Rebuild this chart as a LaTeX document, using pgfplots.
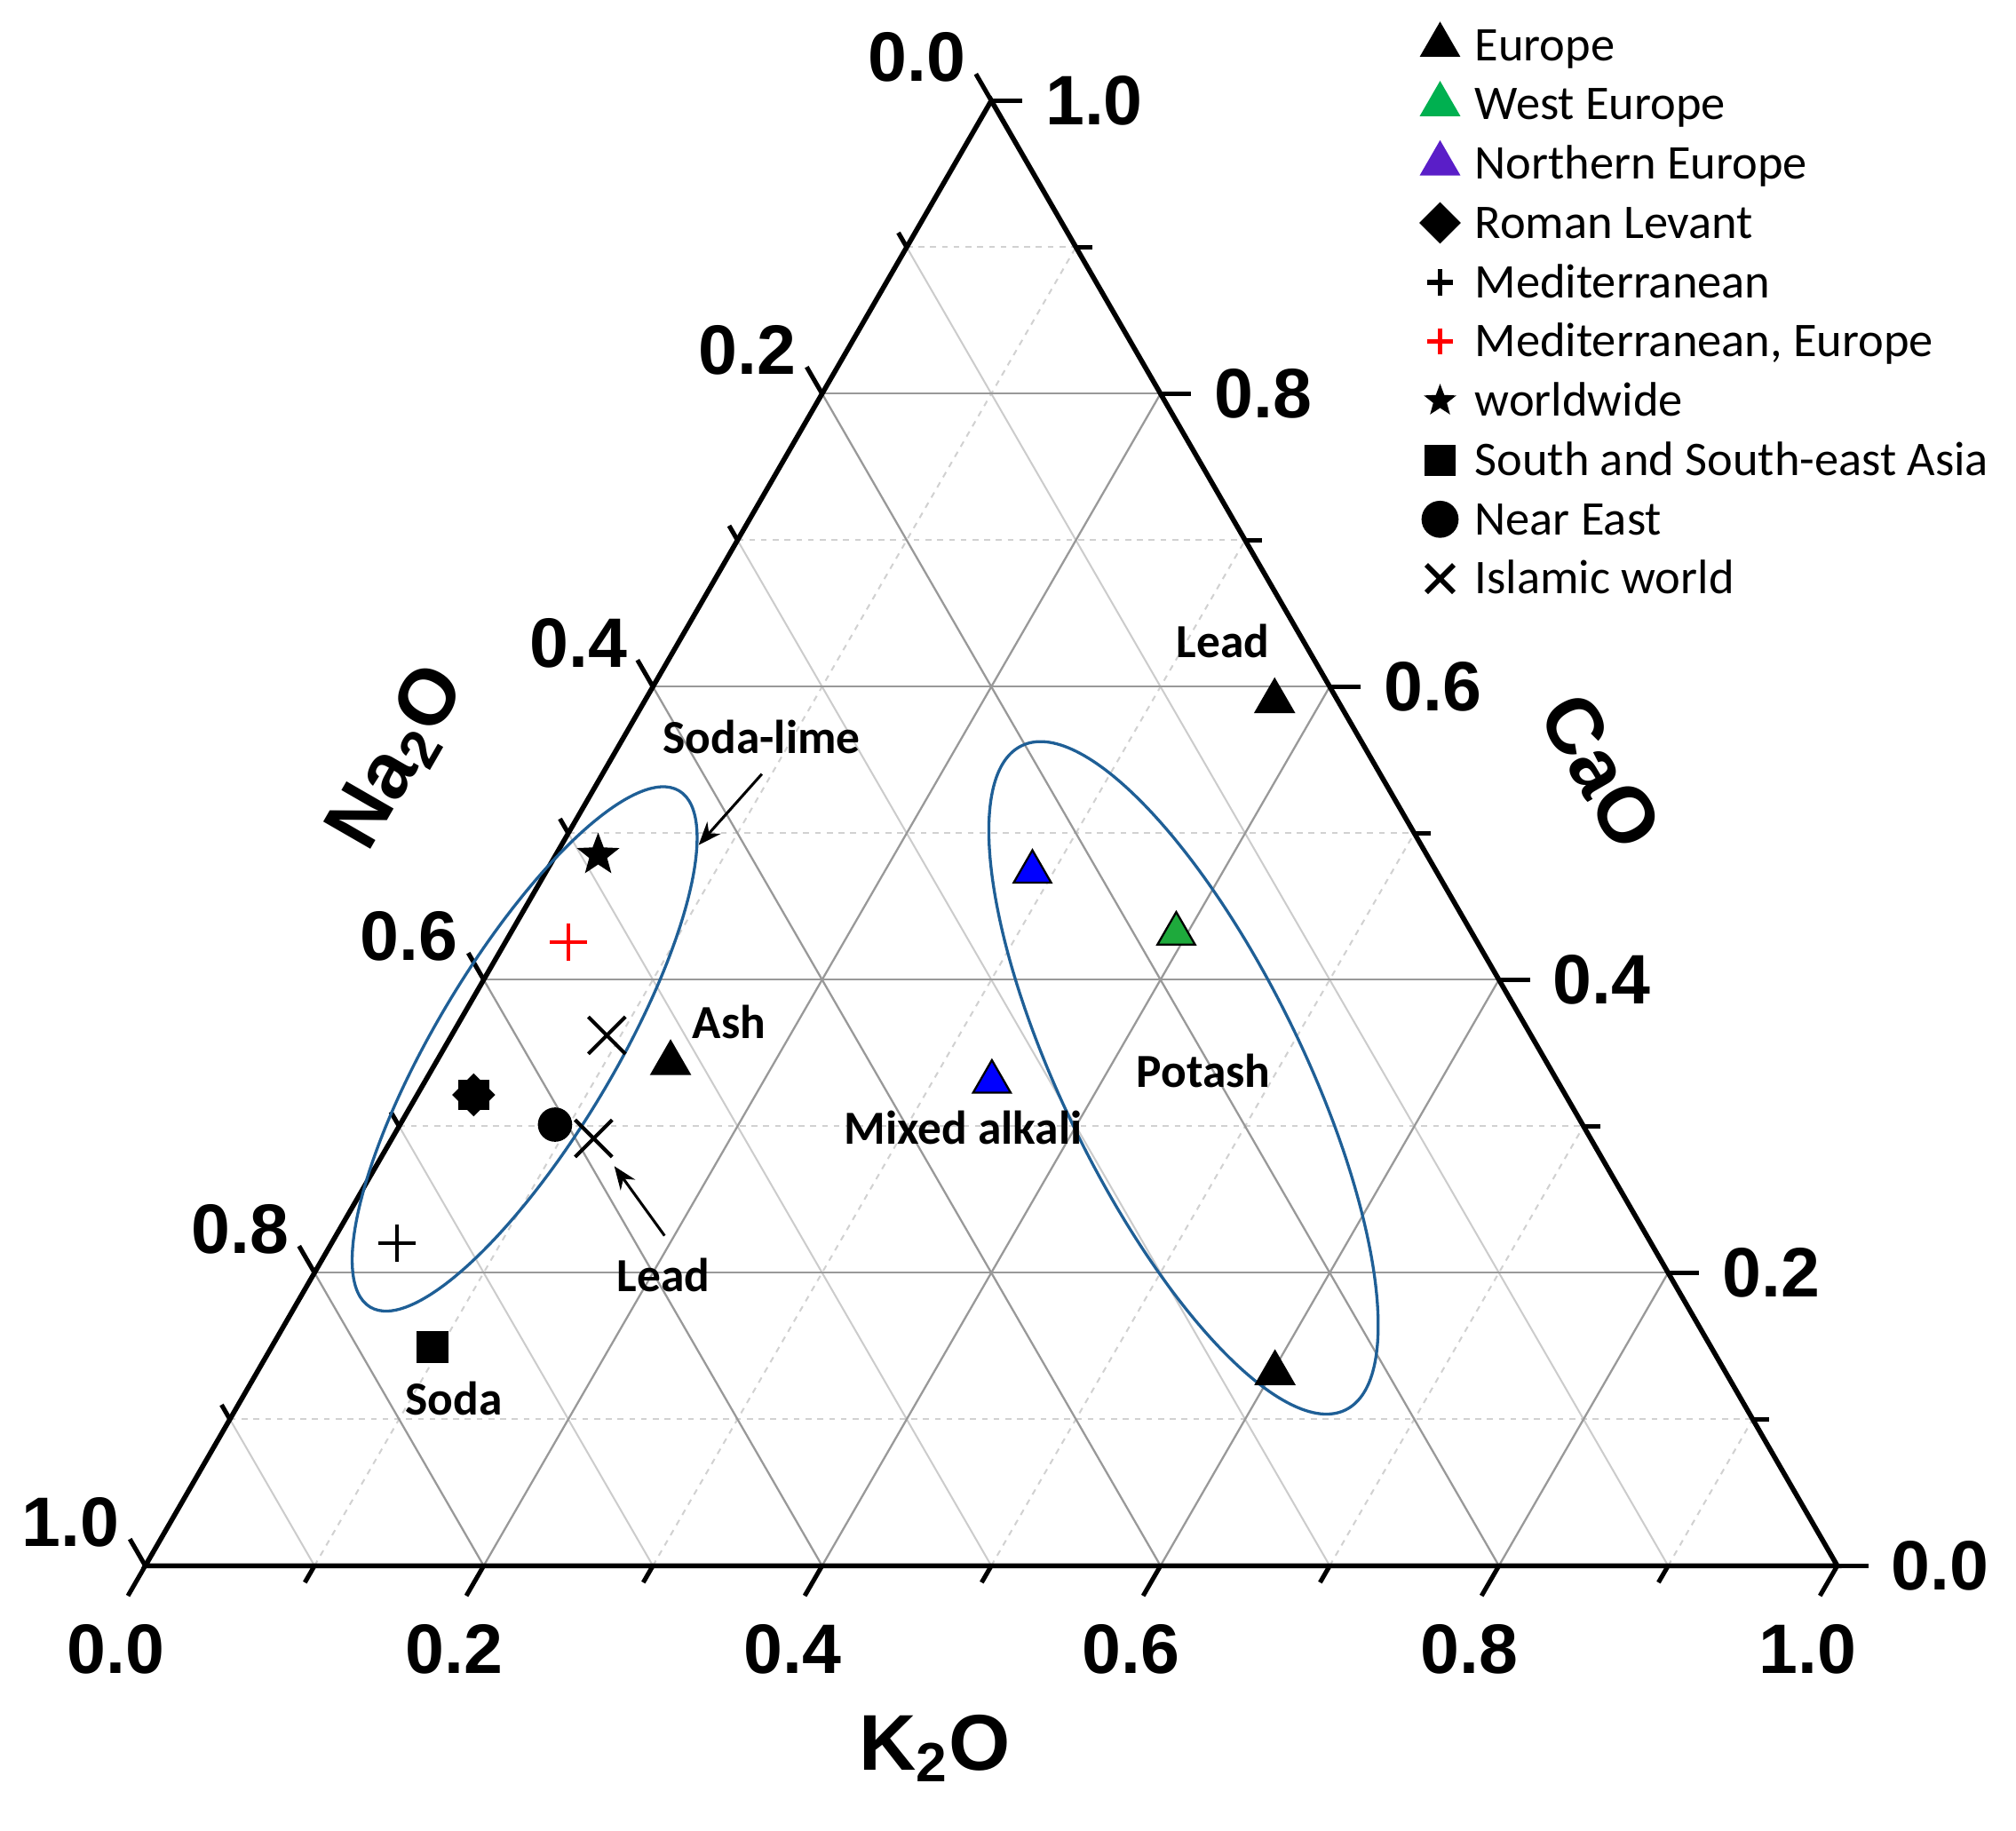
\documentclass[border=0pt]{standalone}
\usepackage{pgfplots}
\pgfplotsset{compat=1.18}
\usepackage{pgfplotstable}
\usepackage{fontspec}
\setmainfont{Carlito}
\newfontfamily\arial{Liberation Sans}
\usetikzlibrary{arrows.meta}

\definecolor{ellblue}{RGB}{31,95,150}
\definecolor{legpurple}{RGB}{90,30,200}
\definecolor{leggreen}{RGB}{0,176,80}
\definecolor{ptgreen}{RGB}{30,170,60}

\pgfdeclareplotmark{fstar}{%
  \pgfpathmoveto{\pgfpointpolar{90}{\pgfplotmarksize}}%
  \pgfpathlineto{\pgfpointpolar{126}{0.42\pgfplotmarksize}}%
  \pgfpathlineto{\pgfpointpolar{162}{\pgfplotmarksize}}%
  \pgfpathlineto{\pgfpointpolar{198}{0.42\pgfplotmarksize}}%
  \pgfpathlineto{\pgfpointpolar{234}{\pgfplotmarksize}}%
  \pgfpathlineto{\pgfpointpolar{270}{0.42\pgfplotmarksize}}%
  \pgfpathlineto{\pgfpointpolar{306}{\pgfplotmarksize}}%
  \pgfpathlineto{\pgfpointpolar{342}{0.42\pgfplotmarksize}}%
  \pgfpathlineto{\pgfpointpolar{18}{\pgfplotmarksize}}%
  \pgfpathlineto{\pgfpointpolar{54}{0.42\pgfplotmarksize}}%
  \pgfpathclose
  \pgfusepathqfillstroke
}
\pgfdeclareplotmark{rhomb}{%
  \pgfpathmoveto{\pgfqpoint{0pt}{\pgfplotmarksize}}%
  \pgfpathlineto{\pgfqpoint{\pgfplotmarksize}{0pt}}%
  \pgfpathlineto{\pgfqpoint{0pt}{-\pgfplotmarksize}}%
  \pgfpathlineto{\pgfqpoint{-\pgfplotmarksize}{0pt}}%
  \pgfpathclose
  \pgfusepathqfillstroke
}

\tikzset{
  majgrid/.style={draw=black!40, line width=0.45pt},
  minsolid/.style={draw=black!20, line width=0.4pt},
  mindash/.style={draw=black!18, line width=0.4pt, dash pattern=on 1.3pt off 1.3pt},
  tk/.style={draw=black, line width=1pt},
  tlab/.style={font=\arial\bfseries\fontsize{15.5}{18}\selectfont, inner sep=0pt},
  axtitle/.style={font=\arial\bfseries\fontsize{17.5}{20}\selectfont, inner sep=0pt},
  annot/.style={font=\bfseries\fontsize{10.5}{12}\selectfont, inner sep=0pt},
}

\begin{document}

% ternary data: K = K2O, C = CaO (Na2O = 1 - K - C)
\pgfplotstableread{
K C
0.3724 0.5901
0.6019 0.1315
0.1389 0.3431
}\europe
\pgfplotstableread{
K C
0.3936 0.4314
}\westeurope
\pgfplotstableread{
K C
0.2875 0.4736
0.3352 0.3303
}\northeurope
\pgfplotstableread{
K C
0.0334 0.3214
}\romanlevant
\pgfplotstableread{
K C
0.0386 0.2200
}\mediterranean
\pgfplotstableread{
K C
0.0373 0.4256
}\medeurope
\pgfplotstableread{
K C
0.0251 0.4851
}\worldwide
\pgfplotstableread{
K C
0.0953 0.1492
}\southasia
\pgfplotstableread{
K C
0.0916 0.3011
}\neareast
\pgfplotstableread{
K C
0.0918 0.3620
0.1191 0.2917
}\islamic

\begin{tikzpicture}
\begin{axis}[
  x=13.16cm, y=13.16cm,
  xmin=-0.08587, xmax=1.10562, ymin=-0.15653, ymax=0.92553,
  hide axis, clip=false,
  legend style={draw=none, fill=none, at={(axis cs:0.7523,0.9164)}, anchor=north west,
    inner sep=0pt, outer sep=0pt, row sep=0pt, column sep=0.10cm,
    font=\fontsize{10.7}{12.8}\selectfont,
    nodes={inner sep=0pt, text height=9.96pt, text depth=3.16pt}},
  legend cell align=left,
  legend image code/.code={\path[draw=none, fill=none] (-0.17cm,-0.17cm) rectangle (0.17cm,0.17cm);
    \draw[#1] plot coordinates {(0cm,0cm)};},
]
\path[draw=none, fill=none] (axis cs:-0.08587,-0.15653) rectangle (axis cs:1.10562,0.92553);

% minor grid
\pgfplotsinvokeforeach{0.1,0.3,0.5,0.7,0.9}{
  \draw[mindash] (axis cs:#1,0) -- (axis cs:{#1+0.5*(1-#1)},{0.8660254*(1-#1)});
  \draw[mindash] (axis cs:{0.5*#1},{0.8660254*#1}) -- (axis cs:{1-0.5*#1},{0.8660254*#1});
  \draw[minsolid] (axis cs:{1-#1},0) -- (axis cs:{0.5*(1-#1)},{0.8660254*(1-#1)});
}
% major grid
\pgfplotsinvokeforeach{0.2,0.4,0.6,0.8}{
  \draw[majgrid] (axis cs:#1,0) -- (axis cs:{#1+0.5*(1-#1)},{0.8660254*(1-#1)});
  \draw[majgrid] (axis cs:{0.5*#1},{0.8660254*#1}) -- (axis cs:{1-0.5*#1},{0.8660254*#1});
  \draw[majgrid] (axis cs:{1-#1},0) -- (axis cs:{0.5*(1-#1)},{0.8660254*(1-#1)});
}
% frame
\draw[line width=1.1pt] (axis cs:0,0) -- (axis cs:1,0) -- (axis cs:0.5,0.8660254) -- cycle;
% ticks
\pgfplotsinvokeforeach{0,0.2,0.4,0.6,0.8,1}{
  \draw[tk] (axis cs:#1,0) -- ++(240:0.27cm);
  \draw[tk] (axis cs:{0.5*(1-#1)},{0.8660254*(1-#1)}) -- ++(120:0.24cm);
  \draw[tk] (axis cs:{1-0.5*#1},{0.8660254*#1}) -- ++(0:0.24cm);
}
\pgfplotsinvokeforeach{0.1,0.3,0.5,0.7,0.9}{
  \draw[tk] (axis cs:#1,0) -- ++(240:0.15cm);
  \draw[tk] (axis cs:{0.5*(1-#1)},{0.8660254*(1-#1)}) -- ++(120:0.13cm);
  \draw[tk] (axis cs:{1-0.5*#1},{0.8660254*#1}) -- ++(0:0.13cm);
}
% tick labels: K2O (bottom)
\node[tlab, xshift=-0.23cm, yshift=-0.65cm] at (axis cs:0,0) {0.0};
\node[tlab, xshift=-0.23cm, yshift=-0.65cm] at (axis cs:0.2,0) {0.2};
\node[tlab, xshift=-0.23cm, yshift=-0.65cm] at (axis cs:0.4,0) {0.4};
\node[tlab, xshift=-0.23cm, yshift=-0.65cm] at (axis cs:0.6,0) {0.6};
\node[tlab, xshift=-0.23cm, yshift=-0.65cm] at (axis cs:0.8,0) {0.8};
\node[tlab, xshift=-0.23cm, yshift=-0.65cm] at (axis cs:1,0) {1.0};
% Na2O (left)
\node[tlab, xshift=-0.58cm, yshift=0.34cm] at (axis cs:0.5,0.8660254) {0.0};
\node[tlab, xshift=-0.58cm, yshift=0.34cm] at (axis cs:0.4,0.6928203) {0.2};
\node[tlab, xshift=-0.58cm, yshift=0.34cm] at (axis cs:0.3,0.5196152) {0.4};
\node[tlab, xshift=-0.58cm, yshift=0.34cm] at (axis cs:0.2,0.3464102) {0.6};
\node[tlab, xshift=-0.58cm, yshift=0.34cm] at (axis cs:0.1,0.1732051) {0.8};
\node[tlab, xshift=-0.58cm, yshift=0.34cm] at (axis cs:0,0) {1.0};
% CaO (right)
\node[tlab, xshift=0.80cm] at (axis cs:1,0) {0.0};
\node[tlab, xshift=0.80cm] at (axis cs:0.9,0.1732051) {0.2};
\node[tlab, xshift=0.80cm] at (axis cs:0.8,0.3464102) {0.4};
\node[tlab, xshift=0.80cm] at (axis cs:0.7,0.5196152) {0.6};
\node[tlab, xshift=0.80cm] at (axis cs:0.6,0.6928203) {0.8};
\node[tlab, xshift=0.80cm] at (axis cs:0.5,0.8660254) {1.0};
% axis titles
\node[axtitle] at (axis cs:0.4666,-0.1079) {K\textsubscript{2}O};
\node[axtitle, rotate=60] at (axis cs:0.1497,0.4772) {Na\textsubscript{2}O};
\node[axtitle, rotate=-60] at (axis cs:0.8602,0.4696) {CaO};

% ellipses
\draw[ellblue, line width=0.65pt, rotate around={59.1:(axis cs:0.2242,0.3055)}]
  (axis cs:0.2242,0.3055) ellipse [x radius=2.34cm, y radius=0.694cm];
\draw[ellblue, line width=0.65pt, rotate around={-64.0:(axis cs:0.6136,0.2884)}]
  (axis cs:0.6136,0.2884) ellipse [x radius=2.874cm, y radius=0.934cm];

% annotations
\node[annot] at (axis cs:0.6368,0.5464) {Lead};
\node[annot] at (axis cs:0.3642,0.4901) {Soda-lime};
\node[annot] at (axis cs:0.3450,0.3214) {Ash};
\node[annot] at (axis cs:0.6254,0.2926) {Potash};
\node[annot] at (axis cs:0.4833,0.2591) {Mixed alkali};
\node[annot] at (axis cs:0.3062,0.1717) {Lead};
\node[annot] at (axis cs:0.1824,0.0988) {Soda};
\draw[line width=0.6pt, -{Stealth[length=1.8mm, width=1.4mm]}] (axis cs:0.3644,0.4680) -- (axis cs:0.3270,0.4260);
\draw[line width=0.6pt, -{Stealth[length=1.8mm, width=1.4mm]}] (axis cs:0.3069,0.1951) -- (axis cs:0.2772,0.2362);

% data
\addplot[forget plot, only marks, mark=triangle*, mark size=4.9pt, draw=black, fill=black]
  table[x expr=\thisrow{K}+0.5*\thisrow{C}, y expr=0.8660254*\thisrow{C}] {\europe};
\addplot[forget plot, only marks, mark=triangle*, mark size=4.8pt, draw=black, fill=ptgreen, line width=0.45pt]
  table[x expr=\thisrow{K}+0.5*\thisrow{C}, y expr=0.8660254*\thisrow{C}] {\westeurope};
\addplot[forget plot, only marks, mark=triangle*, mark size=4.8pt, draw=black, fill=blue, line width=0.45pt]
  table[x expr=\thisrow{K}+0.5*\thisrow{C}, y expr=0.8660254*\thisrow{C}] {\northeurope};
\addplot[forget plot, only marks, mark=rhomb, mark size=4.5pt, draw=black, fill=black]
  table[x expr=\thisrow{K}+0.5*\thisrow{C}, y expr=0.8660254*\thisrow{C}] {\romanlevant};
\addplot[forget plot, only marks, mark=square*, mark size=3.2pt, draw=black, fill=black]
  table[x expr=\thisrow{K}+0.5*\thisrow{C}, y expr=0.8660254*\thisrow{C}] {\romanlevant};
\addplot[forget plot, only marks, mark=+, mark size=4.1pt, draw=black, line width=0.8pt]
  table[x expr=\thisrow{K}+0.5*\thisrow{C}, y expr=0.8660254*\thisrow{C}] {\mediterranean};
\addplot[forget plot, only marks, mark=+, mark size=4.1pt, draw=red, line width=0.8pt]
  table[x expr=\thisrow{K}+0.5*\thisrow{C}, y expr=0.8660254*\thisrow{C}] {\medeurope};
\addplot[forget plot, only marks, mark=fstar, mark size=4.4pt, draw=black, fill=black]
  table[x expr=\thisrow{K}+0.5*\thisrow{C}, y expr=0.8660254*\thisrow{C}] {\worldwide};
\addplot[forget plot, only marks, mark=square*, mark size=3.3pt, draw=black, fill=black]
  table[x expr=\thisrow{K}+0.5*\thisrow{C}, y expr=0.8660254*\thisrow{C}] {\southasia};
\addplot[forget plot, only marks, mark=*, mark size=3.6pt, draw=black, fill=black]
  table[x expr=\thisrow{K}+0.5*\thisrow{C}, y expr=0.8660254*\thisrow{C}] {\neareast};
\addplot[forget plot, only marks, mark=x, mark size=5.8pt, draw=black, line width=0.8pt]
  table[x expr=\thisrow{K}+0.5*\thisrow{C}, y expr=0.8660254*\thisrow{C}] {\islamic};

% legend
\addlegendimage{mark=triangle*, mark size=4.8pt, draw=black, fill=black}
\addlegendentry{Europe}
\addlegendimage{mark=triangle*, mark size=4.8pt, draw=leggreen, fill=leggreen}
\addlegendentry{West Europe}
\addlegendimage{mark=triangle*, mark size=4.8pt, draw=legpurple, fill=legpurple}
\addlegendentry{Northern Europe}
\addlegendimage{mark=rhomb, mark size=4.3pt, draw=black, fill=black}
\addlegendentry{Roman Levant}
\addlegendimage{mark=+, mark size=2.9pt, draw=black, line width=1.1pt}
\addlegendentry{Mediterranean}
\addlegendimage{mark=+, mark size=2.9pt, draw=red, line width=1.1pt}
\addlegendentry{Mediterranean, Europe}
\addlegendimage{mark=fstar, mark size=3.2pt, draw=black, fill=black}
\addlegendentry{worldwide}
\addlegendimage{mark=square*, mark size=3.25pt, draw=black, fill=black}
\addlegendentry{South and South-east Asia}
\addlegendimage{mark=*, mark size=3.9pt, draw=black, fill=black}
\addlegendentry{Near East}
\addlegendimage{mark=x, mark size=4.3pt, draw=black, line width=1.1pt}
\addlegendentry{Islamic world}
\end{axis}
\end{tikzpicture}
\end{document}
